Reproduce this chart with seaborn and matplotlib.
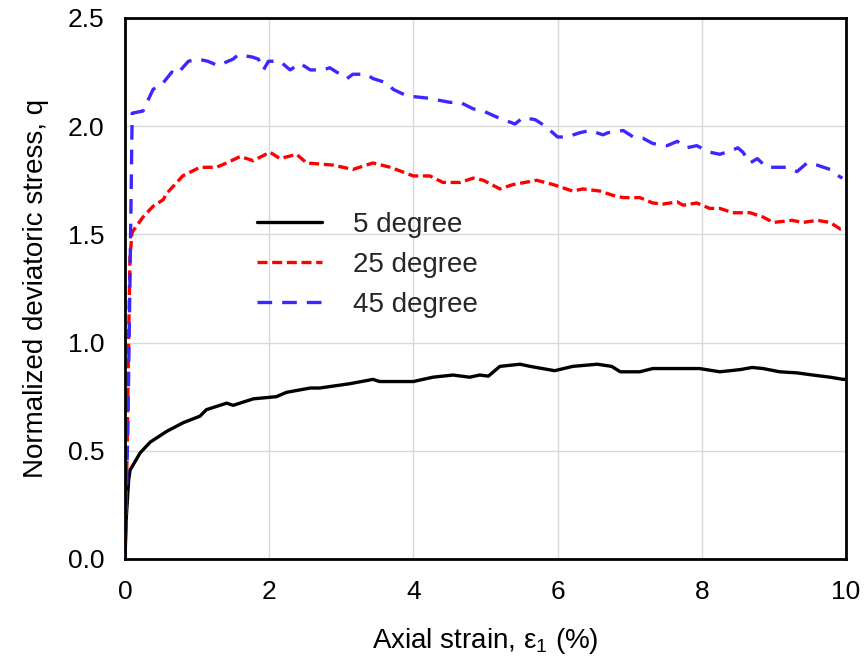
import matplotlib
matplotlib.use("Agg")
import matplotlib.pyplot as plt
import seaborn as sns
import pandas as pd

# ---- data ----
black_x = [0, 0.02, 0.05, 0.07, 0.14, 0.21, 0.35, 0.58, 0.81, 1.04, 1.13, 1.41, 1.50, 1.78, 2.10,
           2.24, 2.57, 2.70, 3.12, 3.44, 3.53, 4.00, 4.27, 4.55, 4.78, 4.92, 5.04, 5.20, 5.48, 5.62,
           5.96, 6.21, 6.55, 6.75, 6.87, 7.14, 7.32, 7.97, 8.25, 8.53, 8.70, 8.85, 9.08, 9.32, 9.54,
           9.78, 9.96, 10.0]
black_y = [0, 0.2, 0.36, 0.41, 0.45, 0.49, 0.54, 0.59, 0.63, 0.66, 0.69, 0.72, 0.71, 0.74, 0.75,
           0.77, 0.79, 0.79, 0.81, 0.83, 0.82, 0.82, 0.84, 0.85, 0.84, 0.85, 0.845, 0.89, 0.90, 0.89,
           0.87, 0.89, 0.90, 0.89, 0.865, 0.865, 0.88, 0.88, 0.865, 0.875, 0.885, 0.88, 0.865, 0.86, 0.85,
           0.84, 0.83, 0.83]

red_x = [0, 0.03, 0.05, 0.07, 0.1, 0.25, 0.39, 0.53, 0.58, 0.72, 0.80, 1.04, 1.27, 1.41, 1.60,
         1.78, 2.01, 2.15, 2.38, 2.52, 2.89, 3.16, 3.44, 3.68, 4.00, 4.23, 4.41, 4.65, 4.83, 4.97,
         5.20, 5.38, 5.71, 5.94, 6.21, 6.35, 6.59, 6.77, 6.91, 7.14, 7.32, 7.46, 7.66, 7.74, 7.93,
         8.11, 8.25, 8.43, 8.67, 8.85, 8.99, 9.25, 9.40, 9.60, 9.78, 9.92, 10.0]
red_y = [0, 0.5, 1.0, 1.4, 1.51, 1.58, 1.63, 1.66, 1.69, 1.74, 1.77, 1.81, 1.81, 1.83, 1.86,
         1.84, 1.88, 1.85, 1.87, 1.83, 1.82, 1.80, 1.83, 1.81, 1.77, 1.77, 1.74, 1.74, 1.76, 1.75,
         1.71, 1.73, 1.75, 1.73, 1.70, 1.71, 1.70, 1.68, 1.67, 1.67, 1.645, 1.64, 1.65, 1.635, 1.645,
         1.62, 1.62, 1.60, 1.60, 1.58, 1.555, 1.565, 1.555, 1.565, 1.555, 1.525, 1.53]

blue_x = [0, 0.04, 0.07, 0.09, 0.1, 0.25, 0.39, 0.53, 0.65, 0.72, 0.88, 1.01, 1.15, 1.29, 1.50,
          1.57, 1.76, 1.85, 1.92, 1.99, 2.15, 2.29, 2.43, 2.57, 2.75, 2.84, 3.08, 3.16, 3.35, 3.44,
          3.63, 3.72, 3.91, 4.19, 4.51, 4.65, 4.83, 4.97, 5.17, 5.41, 5.52, 5.69, 5.83, 6.00, 6.13,
          6.31, 6.45, 6.63, 6.70, 6.91, 7.05, 7.18, 7.32, 7.52, 7.66, 7.79, 7.93, 8.11, 8.25, 8.43,
          8.50, 8.57, 8.67, 8.77, 8.90, 8.99, 9.18, 9.32, 9.46, 9.60, 9.78, 9.87, 9.95]
blue_y = [0, 0.6, 1.3, 1.8, 2.06, 2.07, 2.17, 2.20, 2.25, 2.24, 2.30, 2.31, 2.30, 2.28, 2.31,
          2.33, 2.32, 2.31, 2.26, 2.30, 2.30, 2.26, 2.29, 2.26, 2.26, 2.27, 2.22, 2.24, 2.24, 2.22,
          2.20, 2.17, 2.14, 2.13, 2.11, 2.11, 2.08, 2.07, 2.04, 2.01, 2.04, 2.03, 2.00, 1.95, 1.95,
          1.97, 1.98, 1.96, 1.97, 1.98, 1.95, 1.945, 1.92, 1.91, 1.93, 1.90, 1.91, 1.88, 1.87, 1.89,
          1.90, 1.88, 1.83, 1.85, 1.81, 1.81, 1.81, 1.79, 1.83, 1.82, 1.80, 1.775, 1.76]

series_labels = ["5 degree", "25 degree", "45 degree"]
x_ticks = [0, 2, 4, 6, 8, 10]
y_ticks = [0.0, 0.5, 1.0, 1.5, 2.0, 2.5]
x_label = "Axial strain, ε$_1$ (%)"
y_label = "Normalized deviatoric stress, q"

# ---- style ----
sns.set_theme(style="white")
plt.rcParams["font.family"] = ["Liberation Sans", "DejaVu Sans"]
plt.rcParams["mathtext.fontset"] = "custom"
plt.rcParams["mathtext.rm"] = "Liberation Sans"
plt.rcParams["mathtext.it"] = "Liberation Sans"

fig = plt.figure(figsize=(8.66, 6.56), dpi=100)
ax = fig.add_axes([0.1443, 0.1479, 0.8326, 0.8247])

specs = [
    (black_x, black_y, "black", None),
    (red_x, red_y, "#FF0000", (3.0, 1.4)),
    (blue_x, blue_y, "#3C28FF", (4.4, 3.0)),
]
for (xs, ys, col, dash), lab in zip(specs, series_labels):
    df = pd.DataFrame({"x": xs, "y": ys})
    sns.lineplot(data=df, x="x", y="y", ax=ax, color=col, lw=2.4, sort=False,
                 estimator=None, label=lab)
    line = ax.lines[-1]
    if dash is not None:
        line.set_dashes(dash)
        line.set_dash_capstyle("butt")

ax.set_xlim(0, 10)
ax.set_ylim(0, 2.5)
ax.set_xticks(x_ticks)
ax.set_xticklabels([str(t) for t in x_ticks])
ax.set_yticks(y_ticks)
ax.set_yticklabels([f"{t:.1f}" for t in y_ticks])
ax.grid(True, color="#D9D9D9", lw=1.0)
ax.set_axisbelow(True)
ax.tick_params(axis="both", length=0, labelsize=19, colors="black")
ax.tick_params(axis="x", pad=15)
ax.tick_params(axis="y", pad=15)
for sp in ax.spines.values():
    sp.set_visible(True)
    sp.set_color("black")
    sp.set_linewidth(2.0)

ax.set_xlabel(x_label, fontsize=20, labelpad=16, color="black")
ax.set_ylabel(y_label, fontsize=20, labelpad=13, color="black")

leg = ax.legend(loc="center left", bbox_to_anchor=(0.183, 0.5435), frameon=False,
                fontsize=20, borderpad=0, borderaxespad=0, handlelength=2.35,
                handletextpad=1.1, labelspacing=0.5)

fig.savefig("out.png", dpi=100)
